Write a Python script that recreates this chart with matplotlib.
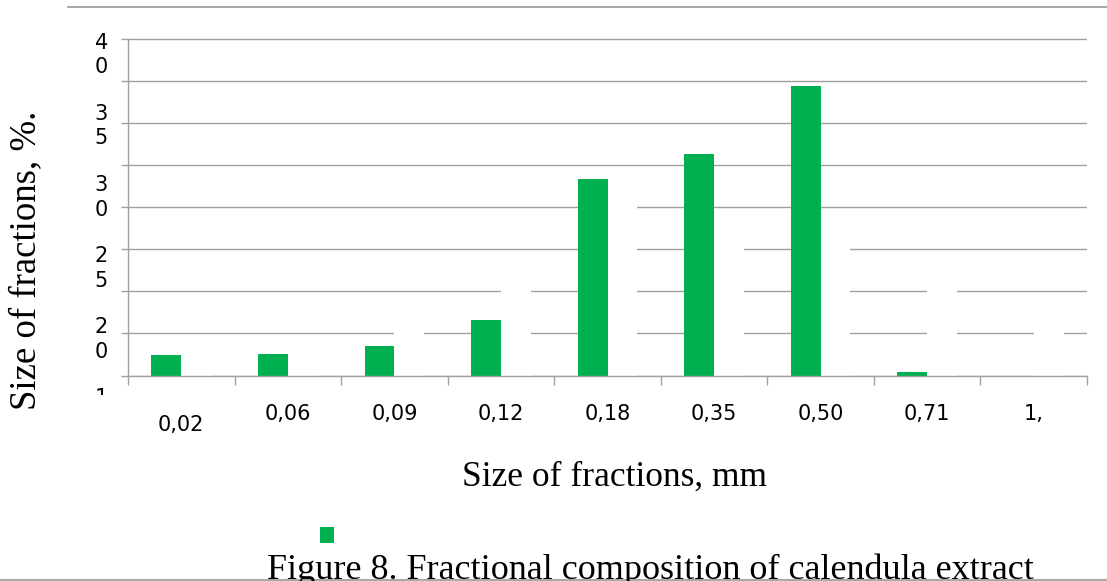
import matplotlib
matplotlib.use("Agg")
import matplotlib.pyplot as plt
from matplotlib.lines import Line2D
from matplotlib.transforms import Bbox, TransformedBbox

# ── Data ────────────────────────────────────────────────────────────────────
sizes = ["0,02", "0,06", "0,09", "0,12", "0,18", "0,35", "0,50", "0,71", "1,"]
fraction_pct = [2.44, 2.56, 3.47, 6.56, 23.3, 26.3, 34.4, 0.42, 0.0]
# second series is drawn in white (only visible where it cuts the gridlines)
second_pct = [3.0, 3.0, 7.0, 12.0, 22.0, 17.0, 17.0, 12.0, 7.0]
ytick_text = ["40", "35", "30", "25", "20", "15"]

GREEN = "#00B050"
GRID = "#a0a0a0"

W, H = 1107, 581
fig = plt.figure(figsize=(W / 100, H / 100), dpi=100)

# axes: y-axis at x=128px, right end 1087px, zero at y=375.5px, 40 at y=39px
ytop = 40.2
px_unit = (375.5 - 39) / 40
ax_h = px_unit * ytop
ax = fig.add_axes([128 / W, 1 - 375.5 / H, (1087 - 128) / W, ax_h / H])

x = list(range(len(sizes)))
bw = 0.28
ax.bar([i + bw / 2 for i in x], second_pct, width=bw,
       color='white', edgecolor='none', zorder=2)
green_bars = ax.bar([i - bw / 2 for i in x], fraction_pct, width=bw,
                    color=GREEN, edgecolor='none', zorder=3)

ax.set_xlim(-0.5, len(sizes) - 0.5)
ax.set_ylim(0, ytop)
ax.set_yticks(range(0, 41, 5))
ax.set_yticklabels([])
ax.grid(axis='y', color=GRID, linewidth=1.0)
ax.set_axisbelow(True)

for s in ['top', 'right']:
    ax.spines[s].set_visible(False)
for s in ['left', 'bottom']:
    ax.spines[s].set_color(GRID)
    ax.spines[s].set_linewidth(1.0)
    ax.spines[s].set_zorder(4)
ax.spines['left'].set_bounds(0, 40)

ax.tick_params(axis='y', length=5, width=1.0, color=GRID)
ax.set_xticks(x)
ax.set_xticklabels([])
ax.tick_params(axis='x', which='major', length=0)
ax.set_xticks([i - 0.5 for i in range(len(sizes) + 1)], minor=True)
ax.tick_params(axis='x', which='minor', length=6.5, width=1.0, color=GRID)

# x category labels (first one sits lower, as in the original)
xt = ax.get_xaxis_transform()
for i, lab in enumerate(sizes):
    ypos = (375.5 - 425) / ax_h if i == 0 else (375.5 - 414) / ax_h
    ax.text(i, ypos, lab, transform=xt, ha='center', va='center',
            fontsize=15, family='DejaVu Sans', color='black')

# y labels, wrapped digit per line
yt = ax.get_yaxis_transform()
clip = TransformedBbox(Bbox([[0, (H - 395) / H], [1, 1]]), fig.transFigure)
for k, lab in enumerate(ytick_text):
    t = ax.text((101.5 - 128) / (1087 - 128), 38.1 - 8.45 * k, "\n".join(lab),
                transform=yt, ha='center', va='center', fontsize=15,
                family='DejaVu Sans', linespacing=1.3, color='black')
    t.set_clip_box(clip)
    t.set_clip_on(True)

serif = ['Liberation Serif', 'DejaVu Serif']
fig.text(26 / W, 1 - 260 / H, "Size of fractions, %.", rotation=90,
         ha='center', va='center', fontsize=26.5, family=serif)
fig.text(614 / W, 1 - 486 / H, "Size of fractions, mm", ha='center',
         va='baseline', fontsize=25.5, family=serif)
fig.text(650 / W, 1 - 579 / H, "Figure 8. Fractional composition of calendula extract",
         ha='center', va='baseline', fontsize=26, family=serif)

# legend (only the green entry shows)
fig.legend([green_bars], [''], loc='center',
           bbox_to_anchor=(327 / W, 1 - 536.5 / H), frameon=False,
           fontsize=14, handlelength=0.72, handleheight=0.875,
           handletextpad=0, borderpad=0, borderaxespad=0)

# chart-area border fragments
fig.add_artist(Line2D([68 / W, 1], [1 - 7.3 / H] * 2, color=GRID, lw=1.3,
                      transform=fig.transFigure))
fig.add_artist(Line2D([0, 1], [1 - 579.5 / H] * 2, color=GRID, lw=1.3,
                      transform=fig.transFigure))

fig.savefig("out.png", dpi=100, facecolor='white')
